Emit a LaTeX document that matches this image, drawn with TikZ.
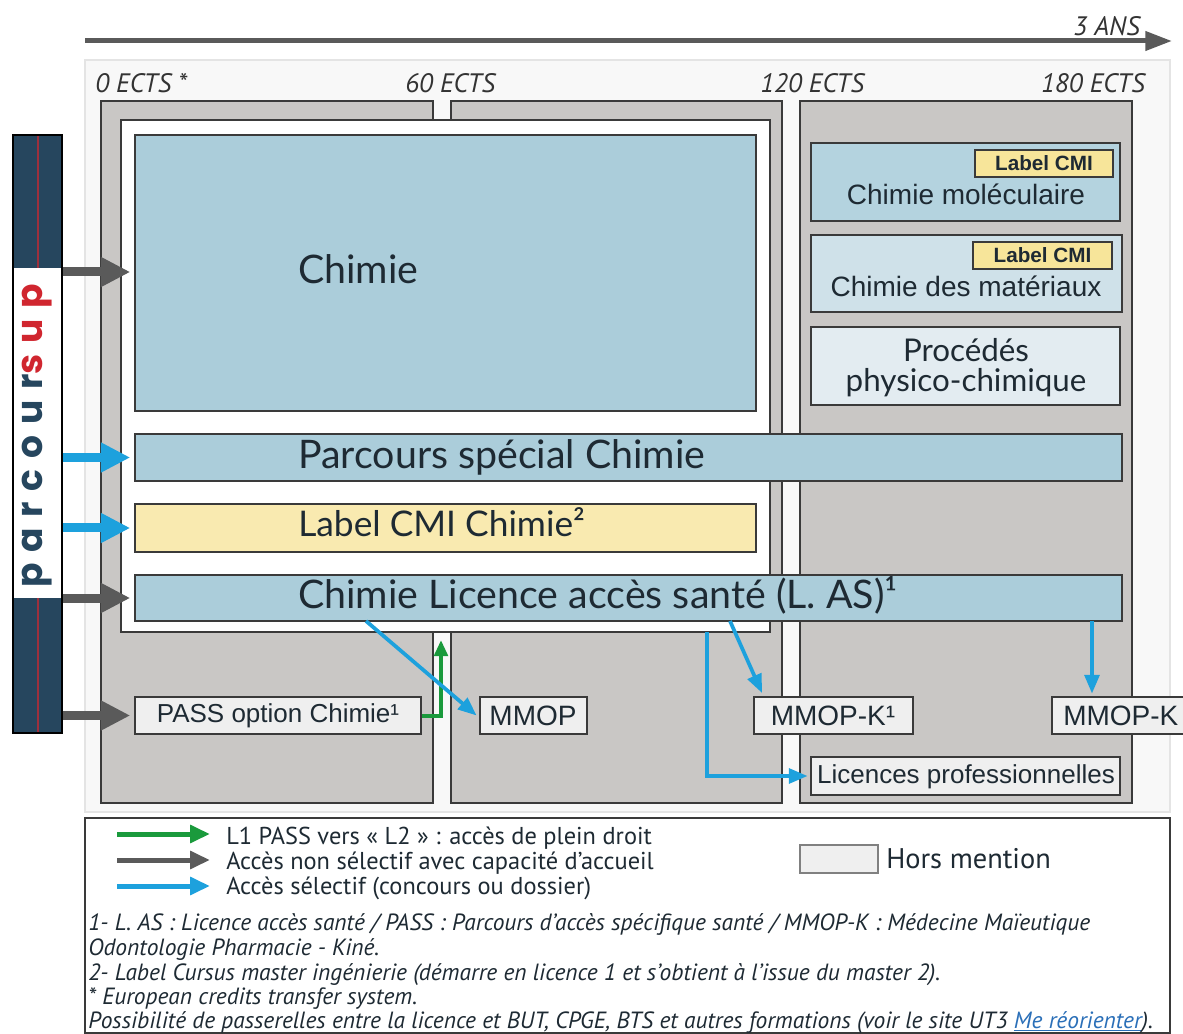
\documentclass[tikz,border=0pt]{standalone}
\usepackage{fontspec}
\setmainfont{Lato}
\newfontfamily\ars{Liberation Sans}
\newfontfamily\pts{PT Sans}
\newfontfamily\pop[LetterSpace=30]{Poppins}
\usetikzlibrary{arrows.meta,fit,calc}
\definecolor{colgray}{HTML}{C9C7C5}
\definecolor{bordr}{HTML}{3A3A3A}
\definecolor{lblue}{HTML}{ABCDDA}
\definecolor{mblue}{HTML}{B4D3DF}
\definecolor{pblue}{HTML}{CFE1E9}
\definecolor{vblue}{HTML}{E3ECF1}
\definecolor{lyell}{HTML}{F9EAB0}
\definecolor{tyell}{HTML}{F7E59A}
\definecolor{hgray}{HTML}{EFEFEF}
\definecolor{panel}{HTML}{F8F8F8}
\definecolor{panelline}{HTML}{E4E4E4}
\definecolor{arrgray}{HTML}{5A5A5A}
\definecolor{arrblue}{HTML}{1DA1DD}
\definecolor{arrgreen}{HTML}{1A9A3C}
\definecolor{navy}{HTML}{26465E}
\definecolor{pred}{HTML}{D0262F}
\definecolor{txt}{HTML}{1E2A33}
\definecolor{ectsc}{HTML}{333333}
\definecolor{link}{HTML}{2A6FB8}
\newcommand{\fsz}[1]{\fontsize{#1}{#1}\selectfont}
\begin{document}
\begin{tikzpicture}[x=0.75pt,y=-0.75pt,
  box/.style={draw=bordr, line width=1.1pt, inner sep=0pt},
  colbox/.style={box, fill=colgray},
  hbox/.style={box, fill=hgray},
  ects/.style={font=\pts\itshape\fsz{20}, text=ectsc, inner sep=0pt},
  bigtxt/.style={font=\fsz{29.5}, text=txt, inner sep=0pt},
  artxt/.style={font=\ars\fsz{21}, text=txt, inner sep=0pt},
  legtxt/.style={font=\pts\fsz{18.3}, text=txt, inner sep=0pt},
  foot/.style={font=\pts\itshape\fsz{17.6}, text=txt, inner sep=0pt},
  bigarrow/.style={line width=6.75pt, -{Triangle[length=22pt,width=21pt]}},
  legarrow/.style={line width=3.75pt, -{Triangle[length=15pt,width=13pt]}},
  thinarrow/.style={line width=2.8pt, arrblue, -{Triangle[length=14pt,width=11pt]}},
]
\useasboundingbox (0,0) rectangle (1183,1034);
\fill[white] (0,0) rectangle (1183,1034);

% background panel and time axis
\node[fit={(85,60)(1170,812)}, inner sep=0pt, draw=panelline, fill=panel, line width=0.8pt] (panel) {};
\coordinate (ts) at (85,41);
\coordinate (te) at (1172,41);
\draw[arrgray, line width=3.75pt, -{Triangle[length=20pt,width=14pt]}] (ts) -- (te);
\node[ects, anchor=base east] (ans) at (1140,36) {3 ANS};

\node[ects, anchor=base west] (e0) at (95,93) {0 ECTS *};
\node[ects, anchor=base west] (e60) at (405,93) {60 ECTS};
\node[ects, anchor=base west] (e120) at (760,93) {120 ECTS};
\node[ects, anchor=base east] (e180) at (1145,93) {180 ECTS};

% columns
\node[colbox, fit={(101,101)(433,803)}] (col1) {};
\node[colbox, fit={(451,101)(782,803)}] (col2) {};
\node[colbox, fit={(800,101)(1132,803)}] (col3) {};
\node[box, fill=white, fit={(121,120)(770,632)}] (wbox) {};

% main boxes
\node[box, fill=lblue, fit={(135,135)(756,411)}] (chimie) {};
\node[bigtxt, anchor=base west] (chimiet) at (298,284) {Chimie};
\node[box, fill=lblue, fit={(135,434)(1122,481)}] (psc) {};
\node[bigtxt, anchor=base west] (psct) at (298,469) {Parcours spécial Chimie};
\node[box, fill=lyell, fit={(135,504)(756,552)}] (cmi) {};
\node[bigtxt, anchor=base west, font=\fsz{26.5}] (cmit) at (298,537) {Label CMI Chimie²};
\node[box, fill=lblue, fit={(135,575)(1122,621)}] (las) {};
\node[bigtxt, anchor=base west] (last) at (298,609) {Chimie Licence accès santé (L. AS)¹};

% right column
\node[box, fill=mblue, fit={(811,143)(1120,221)}] (mol) {};
\node[box, fill=tyell, fit={(975,150)(1113,177)}] (cmi1) {};
\node[font=\ars\bfseries\fsz{15.5}, text=txt, inner sep=0pt] (cmi1t) at (cmi1.center) {Label CMI};
\node[artxt, anchor=base] (molt) at (966,205) {Chimie moléculaire};
\node[box, fill=pblue, fit={(811,235)(1122,312)}] (mat) {};
\node[box, fill=tyell, fit={(973,242)(1112,269)}] (cmi2) {};
\node[font=\ars\bfseries\fsz{15.5}, text=txt, inner sep=0pt] (cmi2t) at (cmi2.center) {Label CMI};
\node[artxt, anchor=base] (matt) at (966,297) {Chimie des matériaux};
\node[box, fill=vblue, fit={(811,327)(1120,405)}] (proc) {};
\node[font=\fsz{23.5}, text=txt, inner sep=0pt, anchor=base] (proct1) at (966,362) {Procédés};
\node[font=\fsz{23.5}, text=txt, inner sep=0pt, anchor=base] (proct2) at (966,392) {physico-chimique};

% bottom boxes
\node[hbox, fit={(135,697)(421,734)}] (pass) {};
\node[artxt, font=\ars\fsz{19.5}] (passt) at (278,716) {PASS option Chimie¹};
\node[hbox, fit={(480,697)(587,734)}] (mmop) {};
\node[artxt] (mmopt) at (533,716) {MMOP};
\node[hbox, fit={(754,697)(913,734)}] (mmopk1) {};
\node[artxt] (mmopk1t) at (833,716) {MMOP-K¹};
\node[hbox, fit={(1052,697)(1200,734)}] (mmopk) {};
\node[artxt, anchor=west] (mmopkt) at (1063,716) {MMOP-K};
\node[hbox, fit={(811,757)(1120,795)}] (lpro) {};
\node[artxt, font=\ars\fsz{19.5}] (lprot) at (966,777) {Licences professionnelles};

% parcoursup bar
\node[draw=black, line width=0.8pt, fill=white, inner sep=0pt, fit={(13,135)(62,733)}] (pcs) {};
\fill[navy] (13,135) rectangle (62,268);
\fill[navy] (13,598) rectangle (62,733);
\draw[pred!70!navy, line width=0.8pt] (38,135) -- (38,268);
\draw[pred!70!navy, line width=0.8pt] (38,598) -- (38,733);
\draw[black, line width=0.8pt] (13,135) rectangle (62,733);
\node[rotate=90, inner sep=0pt, font=\pop\bfseries\fsz{27}] (pcst) at (37,436)
  {\textcolor{navy}{parcour}\textcolor{pred}{sup}};

% access arrows
\draw[bigarrow, arrgray] (pcs.east |- 0,272) -- ([xshift=-3pt]chimie.west |- 0,272);
\draw[bigarrow, arrblue] (pcs.east |- psc.west) -- ([xshift=-3pt]psc.west);
\draw[bigarrow, arrblue] (pcs.east |- cmi.west) -- ([xshift=-3pt]cmi.west);
\draw[bigarrow, arrgray] (pcs.east |- las.west) -- ([xshift=-3pt]las.west);
\draw[bigarrow, arrgray] (pcs.east |- pass.west) -- ([xshift=-3pt]pass.west);

% green arrow
\coordinate (gtop) at (441,640);
\draw[arrgreen, line width=3pt, -{Triangle[length=12pt,width=10pt]}] (pass.east) -| (gtop);

% blue thin arrows
\coordinate (b1s) at (366,621);
\draw[thinarrow] (b1s) -- ([xshift=-2pt]mmop.west);
\coordinate (b2s) at (707,632);
\draw[thinarrow] (b2s) |- ([xshift=-2pt]lpro.west);
\coordinate (b3s) at (730,621);
\coordinate (b3e) at (762,693);
\draw[thinarrow] (b3s) -- (b3e);
\coordinate (b4s) at (1092,621);
\draw[thinarrow] (b4s) -- ([yshift=2pt]mmopk.north -| b4s);

% legend
\node[draw=bordr, line width=1.1pt, fill=white, inner sep=0pt, fit={(85,818)(1170,1033)}] (legend) {};
\coordinate (l1a) at (117,834); \coordinate (l1b) at (210,834);
\coordinate (l2a) at (117,860); \coordinate (l2b) at (210,860);
\coordinate (l3a) at (117,886); \coordinate (l3b) at (210,886);
\draw[legarrow, arrgreen] (l1a) -- (l1b);
\draw[legarrow, arrgray] (l2a) -- (l2b);
\draw[legarrow, arrblue] (l3a) -- (l3b);
\node[legtxt, anchor=base west] (lt1) at (226,844) {L1 PASS vers « L2 » : accès de plein droit};
\node[legtxt, anchor=base west] (lt2) at (226,869) {Accès non sélectif avec capacité d’accueil};
\node[legtxt, anchor=base west] (lt3) at (226,894) {Accès sélectif (concours ou dossier)};
\node[box, fill=hgray, draw=gray, line width=0.8pt, fit={(800,845)(878,873)}] (hm) {};
\node[legtxt, font=\pts\fsz{21.3}, anchor=west] (hmt) at (886,859) {Hors mention};

\node[foot, anchor=base west] (f1) at (88,930) {1- L. AS : Licence accès santé / PASS : Parcours d’accès spécifique santé / MMOP-K : Médecine Maïeutique};
\node[foot, anchor=base west] (f2) at (88,955) {Odontologie Pharmacie - Kiné.};
\node[foot, anchor=base west] (f3) at (88,980) {2- Label Cursus master ingénierie (démarre en licence 1 et s’obtient à l’issue du master 2).};
\node[foot, anchor=base west] (f4) at (88,1004) {* European credits transfer system.};
\node[foot, anchor=base west] (f5) at (88,1028) {Possibilité de passerelles entre la licence et BUT, CPGE, BTS et autres formations (voir le site UT3 \textcolor{link}{\underline{Me réorienter}}).};
\end{tikzpicture}
\end{document}
